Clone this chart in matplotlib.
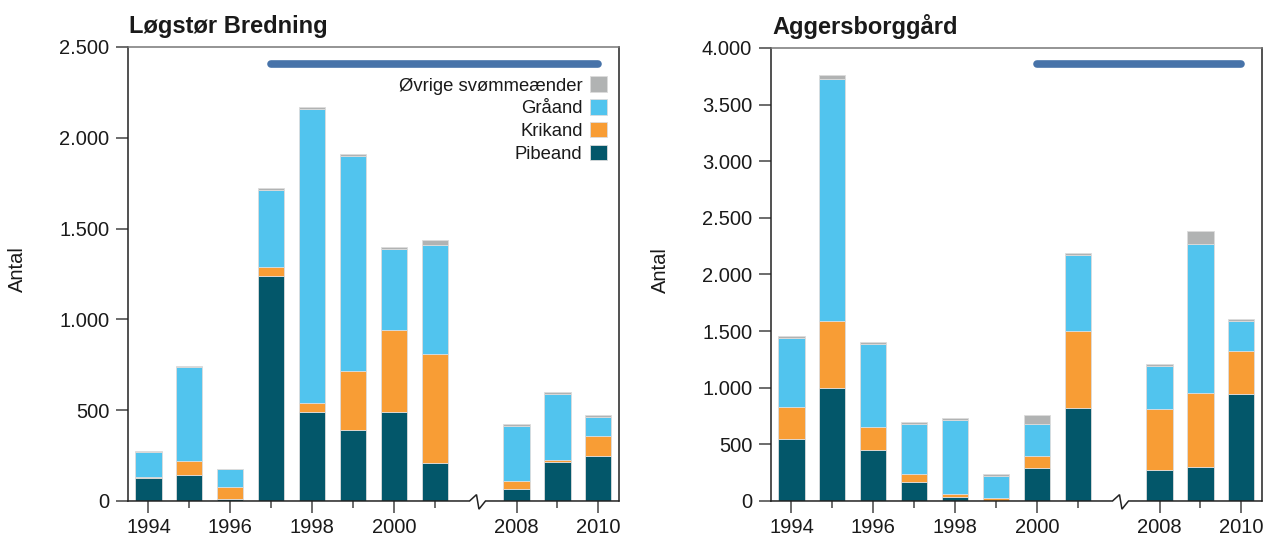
import numpy as np
import matplotlib
matplotlib.use("Agg")
import matplotlib.pyplot as plt
from matplotlib.ticker import FuncFormatter, FixedLocator

plt.rcParams['font.family'] = ['Liberation Sans', 'DejaVu Sans']

years = [1994, 1995, 1996, 1997, 1998, 1999, 2000, 2001, 2008, 2009, 2010]
xpos = [0, 1, 2, 3, 4, 5, 6, 7, 9, 10, 11]   # gap for the broken axis

labels = ['Pibeand', 'Krikand', 'Gråand', 'Øvrige svømmeænder']
colors = ['#03576a', '#f89d35', '#51c4ee', '#b1b3b3']

# Løgstør Bredning
lb_pibe = [127, 141, 13, 1239, 490, 393, 490, 209, 66, 215, 248]
lb_kri = [3, 77, 64, 50, 51, 323, 450, 599, 44, 11, 112]
lb_gra = [137, 518, 101, 423, 1618, 1184, 448, 603, 305, 363, 104]
lb_ovr = [7, 7, 0, 10, 10, 11, 11, 28, 9, 11, 10]

# Aggersborggård
ag_pibe = [545, 1000, 453, 170, 38, 3, 291, 824, 276, 303, 945]
ag_kri = [282, 589, 198, 68, 26, 20, 109, 674, 536, 651, 380]
ag_gra = [615, 2137, 738, 439, 651, 195, 277, 677, 380, 1315, 264]
ag_ovr = [15, 36, 12, 18, 18, 17, 82, 15, 18, 115, 18]

fig = plt.figure(figsize=(12.65, 5.38), dpi=100)
ax1 = fig.add_axes([0.1012, 0.0688, 0.388, 0.8439])
ax2 = fig.add_axes([0.6095, 0.0688, 0.388, 0.8420])


def thousands(v, pos):
    return '{:,}'.format(int(v)).replace(',', '.')


def panel(ax, series, title, ymax, ystep, line_from, line_y, legend=False):
    bottom = np.zeros(len(xpos))
    for vals, c, lab in zip(series, colors, labels):
        ax.bar(xpos, vals, 0.64, bottom=bottom, color=c, label=lab,
               edgecolor='#dcdcdc', linewidth=0.6)
        bottom += np.array(vals)

    ax.set_xlim(-0.5, 11.5)
    ax.set_ylim(0, ymax)
    ax.set_yticks(np.arange(0, ymax + 1, ystep))
    ax.yaxis.set_major_formatter(FuncFormatter(thousands))

    major = [0, 2, 4, 6, 9, 11]
    minor = [1, 3, 5, 7, 10]
    ax.xaxis.set_major_locator(FixedLocator(major))
    ax.xaxis.set_minor_locator(FixedLocator(minor))
    ax.set_xticklabels([str(years[xpos.index(m)]) for m in major])

    ax.tick_params(axis='both', which='major', length=8.6, width=1.1,
                   color='#444444', labelsize=14.5, labelcolor='#1a1a1a')
    ax.tick_params(axis='y', pad=5)
    ax.tick_params(axis='x', which='major', pad=3.6)
    ax.tick_params(axis='x', which='minor', length=5, width=1.1, color='#444444')

    for s in ['left', 'right']:
        ax.spines[s].set_color('#222222')
        ax.spines[s].set_linewidth(1.1)
    ax.spines['top'].set_color('#777777')
    ax.spines['top'].set_linewidth(1.1)
    ax.spines['bottom'].set_visible(False)

    # bottom axis with break mark
    tr = ax.get_xaxis_transform()
    ax.plot([-0.5, 7.85, 8.02, 8.08, 8.24, 11.5],
            [0, 0, 0.014, -0.018, 0, 0],
            transform=tr, color='#222222', lw=1.1, clip_on=False,
            solid_joinstyle='miter')

    # survey period bar
    ax.plot([line_from, 11], [line_y, line_y], color='#4773a9', lw=5.5,
            solid_capstyle='round')

    ax.text(0.003, 1.031, title, transform=ax.transAxes, fontsize=17,
            fontweight='bold', ha='left', va='baseline', color='#1a1a1a')
    ax.set_ylabel('Antal', fontsize=14.5, color='#1a1a1a')
    ax.yaxis.set_label_coords(-0.205, 0.51)

    if legend:
        h, l = ax.get_legend_handles_labels()
        ax.legend(h[::-1], l[::-1], loc='upper right',
                  bbox_to_anchor=(0.975, 0.935), frameon=False,
                  markerfirst=False, fontsize=13.3, handlelength=0.9,
                  handleheight=0.9, handletextpad=0.4, labelspacing=0.26,
                  borderpad=0, borderaxespad=0, labelcolor='#1a1a1a')


panel(ax1, [lb_pibe, lb_kri, lb_gra, lb_ovr], 'Løgstør Bredning',
      2500, 500, 3, 2406, legend=True)
panel(ax2, [ag_pibe, ag_kri, ag_gra, ag_ovr], 'Aggersborggård',
      4000, 500, 6, 3859)

fig.savefig('out.png', dpi=100)
